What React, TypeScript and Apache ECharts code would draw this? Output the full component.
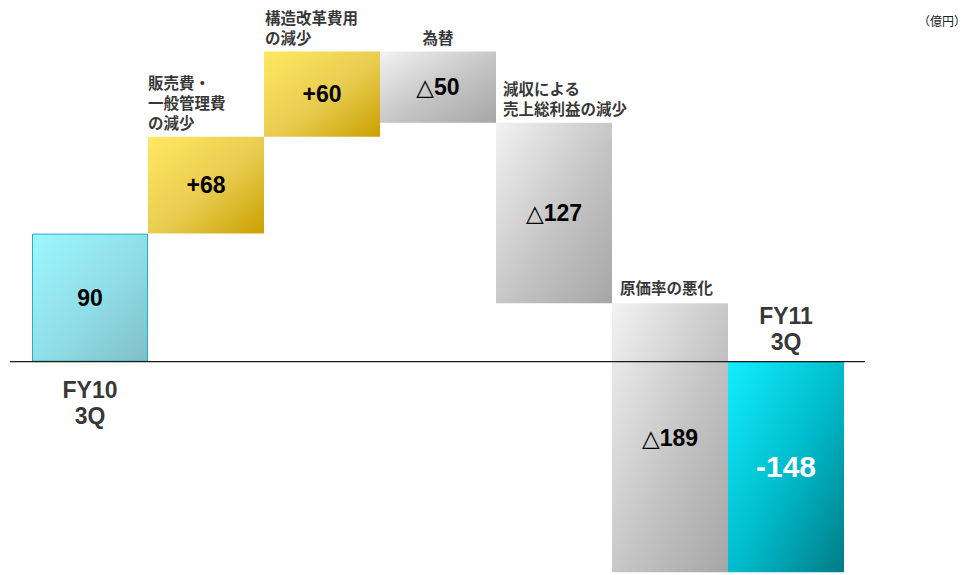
import React, { useEffect, useRef } from "react";
import * as echarts from "echarts";

const categories = [
  "FY10\n3Q",
  "販売費・\n一般管理費\nの減少",
  "構造改革費用\nの減少",
  "為替",
  "減収による\n売上総利益の減少",
  "原価率の悪化",
  "FY11\n3Q",
];
const changes = [90, 68, 60, -50, -127, -189, -148];
const unitLabel = "（億円）";

const grad = (c0: string, c1: string, c2: string) =>
  new echarts.graphic.LinearGradient(0, 0, 1, 1, [
    { offset: 0, color: c0 },
    { offset: 0.55, color: c1 },
    { offset: 1, color: c2 },
  ]);

export default function App() {
  const ref = useRef<HTMLDivElement>(null);
  useEffect(() => {
    if (!ref.current) return;
    const chart = echarts.init(ref.current, null, { renderer: "svg" });
    const n = changes.length;
    const starts: number[] = [];
    const ends: number[] = [];
    let run = 0;
    changes.forEach((v, i) => {
      if (i === 0 || i === n - 1) {
        starts.push(0);
        ends.push(v);
        run = v;
      } else {
        starts.push(run);
        run += v;
        ends.push(run);
      }
    });
    const base = starts.map((s, i) => Math.min(s, ends[i]));
    const heights = starts.map((s, i) => Math.abs(ends[i] - s));
    const tops = starts.map((s, i) => Math.max(s, ends[i]));

    const colorFor = (i: number, v: number) => {
      if (i === 0) return grad("#9ef6fe", "#8fdde6", "#7fbfc6");
      if (i === n - 1) return grad("#12eeff", "#00b8c8", "#007c86");
      if (v > 0) return grad("#ffe862", "#e8cb4e", "#c9a000");
      return grad("#f2f2f2", "#c4c4c4", "#a6a6a6");
    };
    const labelText = (i: number, v: number) => {
      if (i === 0) return String(v);
      if (i === n - 1) return "-" + Math.abs(v);
      return v > 0 ? "+" + v : "△" + Math.abs(v);
    };

    const catLabelCfg = [
      { pos: "bottom", align: "center", dx: 0, dist: 15 },
      { pos: "top", align: "left", dx: 0, dist: 5 },
      { pos: "top", align: "left", dx: 1, dist: 5 },
      { pos: "top", align: "center", dx: 0, dist: 5 },
      { pos: "top", align: "left", dx: 7, dist: 5 },
      { pos: "top", align: "left", dx: 8, dist: 6 },
      { pos: "top", align: "center", dx: 0, dist: 6 },
    ];

    chart.setOption({
      animation: false,
      grid: { left: 32, right: 130, top: 6, height: 573 },
      xAxis: {
        type: "category",
        data: categories,
        axisLine: { show: false },
        axisTick: { show: false },
        axisLabel: { show: false },
      },
      yAxis: {
        type: "value",
        min: -150,
        max: 250,
        show: false,
        splitLine: { show: false },
      },
      series: [
        {
          type: "bar",
          stack: "w",
          stackStrategy: "all",
          barWidth: 116,
          silent: true,
          itemStyle: { color: "transparent" },
          data: base,
        },
        {
          type: "bar",
          stack: "w",
          stackStrategy: "all",
          barWidth: 116,
          data: heights.map((h, i) => ({
            value: h,
            itemStyle: {
              color: colorFor(i, changes[i]),
              borderColor: i === 0 ? "#1fb2c2" : "transparent",
              borderWidth: i === 0 ? 1 : 0,
            },
            label: {
              show: true,
              position: "inside",
              formatter: labelText(i, changes[i]),
              color: i === n - 1 ? "#ffffff" : "#000000",
              fontSize: i === n - 1 ? 30 : 23,
              fontWeight: "bold",
              fontFamily: "Liberation Sans, Arial, DejaVu Sans, sans-serif",
            },
          })),
        },
        {
          type: "scatter",
          symbolSize: 0,
          silent: true,
          data: categories.map((c, i) => {
            const cfg = catLabelCfg[i];
            const isFY = i === 0 || i === n - 1;
            return {
              value: [i, isFY ? 0 : tops[i]],
              label: {
                show: true,
                position: cfg.pos,
                distance: cfg.dist,
                align: cfg.align,
                offset: [cfg.align === "left" ? -58 + cfg.dx : 0, 0],
                formatter: c,
                color: "#000000",
                fontWeight: "bold",
                fontSize: isFY ? 23 : 15.5,
                lineHeight: isFY ? 26.5 : 20,
                fontFamily: isFY
                  ? "Liberation Sans, Arial, sans-serif"
                  : "Noto Sans CJK JP, sans-serif",
              },
            };
          }),
        },
      ],
    });

    const y0 = chart.convertToPixel({ yAxisIndex: 0 }, 0) as number;
    chart.setOption({
      graphic: [
        {
          type: "line",
          shape: { x1: 10, y1: y0, x2: 865, y2: y0 },
          style: { stroke: "#1a1a1a", lineWidth: 1.2 },
          z: 10,
        },
        {
          type: "text",
          right: 8,
          top: 14,
          style: {
            text: unitLabel,
            fontSize: 12,
            fill: "#222222",
            fontFamily: "Noto Sans CJK JP, sans-serif",
          },
        },
      ],
    });

    return () => chart.dispose();
  }, []);
  return (
    <div
      ref={ref}
      style={{ position: "absolute", left: 0, top: 0, width: 974, height: 575 }}
    />
  );
}
